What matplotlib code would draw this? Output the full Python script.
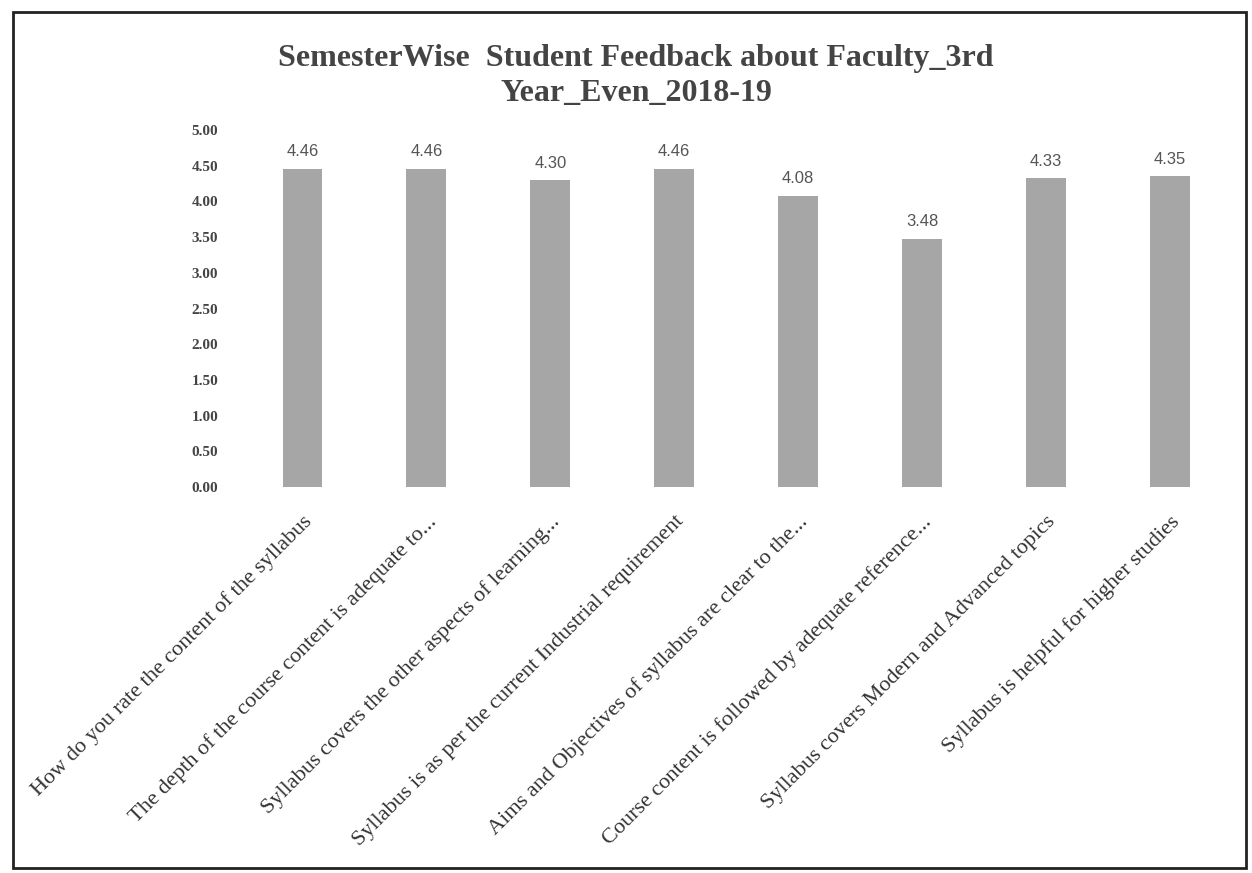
import matplotlib
matplotlib.use("Agg")
import matplotlib.pyplot as plt
from matplotlib.patches import Rectangle

categories = [
    "How do you rate the content of the syllabus",
    "The depth of the course content is adequate to...",
    "Syllabus covers the other aspects of learning...",
    "Syllabus is as per the current Industrial requirement",
    "Aims and Objectives of syllabus are clear to the...",
    "Course content is followed by adequate reference...",
    "Syllabus covers Modern and Advanced topics",
    "Syllabus is helpful for higher studies",
]
values = [4.46, 4.46, 4.30, 4.46, 4.08, 3.48, 4.33, 4.35]
yticks = [0, 0.5, 1.0, 1.5, 2.0, 2.5, 3.0, 3.5, 4.0, 4.5, 5.0]
title = "SemesterWise  Student Feedback about Faculty_3rd\nYear_Even_2018-19"

fig = plt.figure(figsize=(12.52, 8.73), dpi=100)
ax = fig.add_axes([0.192, 0.442, 0.792, 0.409])

x = list(range(len(categories)))
ax.bar(x, values, width=0.32, color="#a6a6a6")
ax.set_xlim(-0.5, len(categories) - 0.5)
ax.set_ylim(0, 5)
ax.set_yticks(yticks)
ax.set_yticklabels([f"{v:.2f}" for v in yticks], family="Liberation Serif", fontsize=11,
                   fontweight="bold", color="#444444")
ax.set_xticks(x)
ax.set_xticklabels(categories, rotation=45, ha="right", rotation_mode="anchor",
                   family="Liberation Serif", fontsize=16, color="#333333")
ax.tick_params(axis="y", length=0, pad=16)
ax.tick_params(axis="x", length=0, pad=18)
for s in ax.spines.values():
    s.set_visible(False)

for xi, v in zip(x, values):
    ax.text(xi, v + 0.13, f"{v:.2f}", ha="center", va="bottom",
            family="Liberation Sans", fontsize=12, color="#555555")

fig.text(0.508, 0.913, title, ha="center", va="center", family="Liberation Serif",
         fontsize=23, fontweight="bold", color="#444444", linespacing=1.3)

fig.add_artist(Rectangle((0.01, 0.006), 0.985, 0.98, transform=fig.transFigure,
                         fill=False, edgecolor="#222222", linewidth=2))

fig.savefig("out.png", dpi=100)
